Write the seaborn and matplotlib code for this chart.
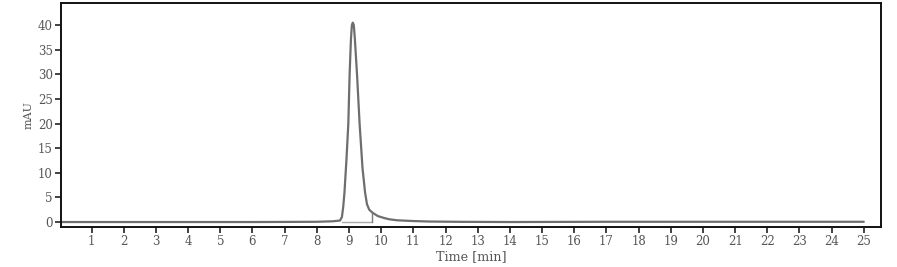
import matplotlib
matplotlib.use("Agg")
import matplotlib.pyplot as plt
import seaborn as sns
import pandas as pd

# Chromatogram trace (time in min, signal in mAU)
time_min = [0.0, 2.0, 4.0, 6.0, 7.0, 8.0, 8.5, 8.72, 8.78, 8.82, 8.86, 8.92, 8.98,
            9.02, 9.06, 9.09, 9.12, 9.15, 9.18, 9.25, 9.33, 9.42, 9.50, 9.56,
            9.63, 9.73, 9.90, 10.10, 10.26, 10.50, 11.00, 11.50, 12.50, 14.00,
            17.0, 20.0, 22.0, 25.0]
signal_mau = [0.0, 0.0, 0.0, 0.0, 0.02, 0.05, 0.15, 0.3, 1.0, 3.0, 6.0, 12.5, 20.0,
              30.0, 37.0, 40.0, 40.5, 40.0, 37.5, 30.0, 20.0, 11.0, 6.0, 3.6,
              2.5, 1.9, 1.2, 0.8, 0.55, 0.35, 0.2, 0.1, 0.04, 0.0,
              0.05, 0.05, 0.05, 0.05]

# Integration baseline and drop line
base_t = [8.78, 9.73]
base_v = [0.0, 0.0]
drop_t = [9.73, 9.73]
drop_v = [0.0, 1.9]

x_ticks = list(range(1, 26))
y_ticks = list(range(0, 41, 5))

sns.set_theme(style="white")
plt.rcParams['font.family'] = ['DejaVu Serif']

fig = plt.figure(figsize=(8.97, 2.67), dpi=100)
ax = fig.add_axes([0.068, 0.150, 0.914, 0.839])

df = pd.DataFrame({"t": time_min, "v": signal_mau})
sns.lineplot(data=df, x="t", y="v", ax=ax, color="#6e6e6e", linewidth=1.6,
             sort=False, estimator=None)
sns.lineplot(x=base_t, y=base_v, ax=ax, color="#a8a8a8", linewidth=1.0,
             sort=False, estimator=None)
sns.lineplot(x=drop_t, y=drop_v, ax=ax, color="#7a7a7a", linewidth=1.0,
             sort=False, estimator=None)

ax.set_xlim(0.05, 25.53)
ax.set_ylim(-1.0, 44.5)
ax.set_xticks(x_ticks)
ax.set_yticks(y_ticks)
ax.set_xticklabels([str(v) for v in x_ticks])
ax.set_yticklabels([str(v) for v in y_ticks])

tc = "#555555"
ax.tick_params(axis="both", which="major", direction="out", length=4, width=1.2,
               colors="#222222", labelcolor=tc, labelsize=8.5, pad=2,
               bottom=True, left=True)
for s in ax.spines.values():
    s.set_color("#111111")
    s.set_linewidth(1.4)

ax.set_xlabel("Time [min]", fontsize=9.2, color=tc, labelpad=1)
ax.set_ylabel("mAU", fontsize=8, color=tc, labelpad=3)

fig.savefig("out.png", dpi=100, facecolor="white")
